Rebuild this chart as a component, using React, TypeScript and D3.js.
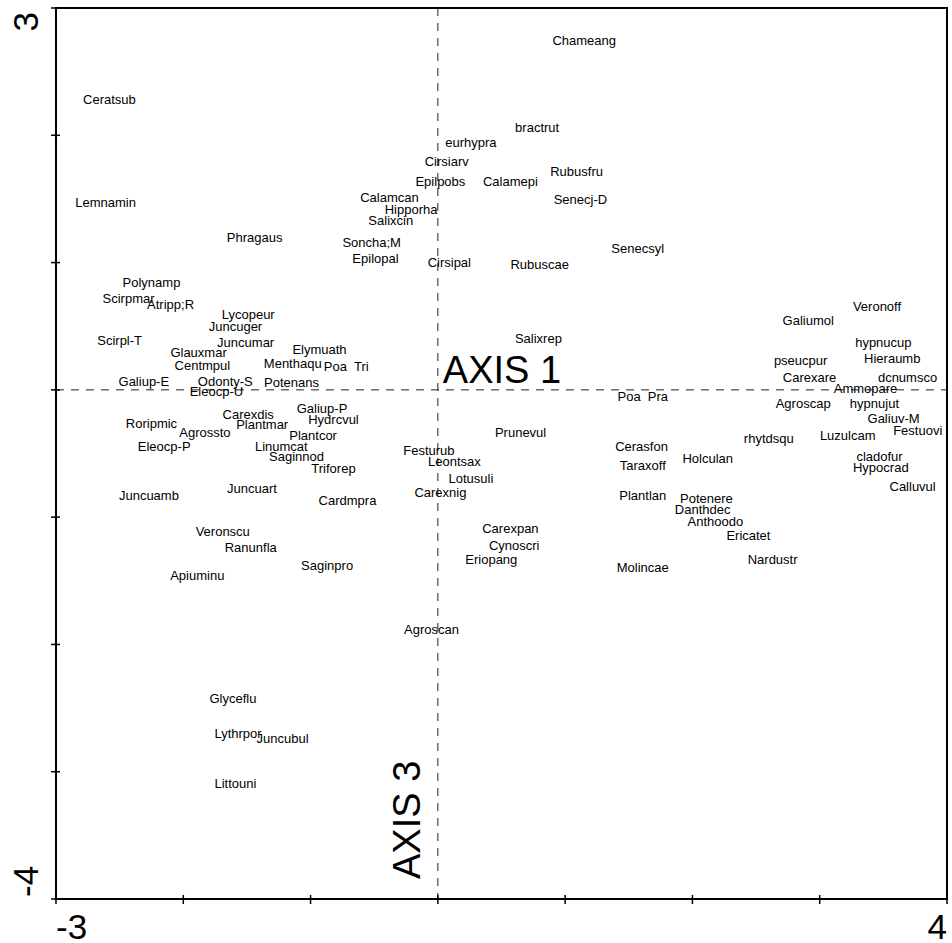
import React from "react";
import * as d3 from "d3";

// Species labels and their ordination scores (axis 1 = horizontal, axis 3 = vertical)
const species: string[] = [
  "Ceratsub", "Lemnamin", "Phragaus", "Polynamp", "Scirpmar", "Atripp;R", "Lycopeur", "Juncuger",
  "Scirpl-T", "Juncumar", "Glauxmar", "Elymuath", "Centmpul", "Menthaqu", "Poa  Tri", "Galiup-E",
  "Odonty-S", "Eleocp-U", "Potenans", "Carexdis", "Galiup-P", "Roripmic", "Hydrcvul", "Plantmar",
  "Agrossto", "Plantcor", "Eleocp-P", "Linumcat", "Saginnod", "Triforep", "Juncuamb", "Juncuart",
  "Cardmpra", "Veronscu", "Ranunfla", "Saginpro", "Apiuminu", "Chameang", "bractrut", "eurhypra",
  "Cirsiarv", "Rubusfru", "Epilpobs", "Calamepi", "Calamcan", "Senecj-D", "Hipporha", "Salixcin",
  "Soncha;M", "Senecsyl", "Epilopal", "Cirsipal", "Rubuscae", "Salixrep", "Prunevul", "Festurub",
  "Leontsax", "Lotusuli", "Carexnig", "Carexpan", "Cynoscri", "Eriopang", "Agroscan", "Veronoff",
  "Galiumol", "hypnucup", "pseucpur", "Hieraumb", "Carexare", "dcnumsco", "Ammopare", "Poa  Pra",
  "Agroscap", "hypnujut", "Galiuv-M", "Festuovi", "rhytdsqu", "Luzulcam", "Cerasfon", "Holculan",
  "cladofur", "Hypocrad", "Taraxoff", "Calluvul", "Plantlan", "Potenere", "Danthdec", "Anthoodo",
  "Ericatet", "Nardustr", "Molincae", "Glyceflu", "Lythrpor", "Juncubul", "Littouni",
];

const axis1: number[] = [
  -2.58, -2.61, -1.44, -2.25, -2.43, -2.10, -1.49, -1.59,
  -2.50, -1.51, -1.88, -0.93, -1.85, -1.14, -0.72, -2.31,
  -1.67, -1.74, -1.15, -1.49, -0.91, -2.25, -0.82, -1.38,
  -1.83, -0.98, -2.15, -1.23, -1.11, -0.82, -2.27, -1.46,
  -0.71, -1.69, -1.47, -0.87, -1.89, 1.15, 0.78, 0.26,
  0.07, 1.09, 0.02, 0.57, -0.38, 1.12, -0.21, -0.37,
  -0.52, 1.57, -0.49, 0.09, 0.80, 0.79, 0.65, -0.07,
  0.13, 0.26, 0.02, 0.57, 0.60, 0.42, -0.05, 3.45,
  2.91, 3.50, 2.85, 3.57, 2.92, 3.69, 3.36, 1.61,
  2.87, 3.43, 3.58, 3.77, 2.60, 3.22, 1.60, 2.12,
  3.47, 3.48, 1.61, 3.73, 1.61, 2.11, 2.08, 2.18,
  2.44, 2.63, 1.61, -1.61, -1.57, -1.22, -1.59,
];

const axis3: number[] = [
  2.28, 1.47, 1.19, 0.84, 0.71, 0.67, 0.59, 0.49,
  0.38, 0.37, 0.29, 0.31, 0.19, 0.20, 0.18, 0.06,
  0.06, -0.02, 0.05, -0.20, -0.15, -0.27, -0.24, -0.28,
  -0.34, -0.36, -0.45, -0.45, -0.53, -0.62, -0.83, -0.78,
  -0.87, -1.12, -1.24, -1.38, -1.46, 2.74, 2.06, 1.94,
  1.79, 1.71, 1.63, 1.63, 1.51, 1.49, 1.41, 1.33,
  1.15, 1.11, 1.03, 1.00, 0.98, 0.40, -0.34, -0.48,
  -0.57, -0.70, -0.81, -1.09, -1.23, -1.34, -1.89, 0.65,
  0.54, 0.37, 0.23, 0.24, 0.09, 0.09, 0.01, -0.06,
  -0.11, -0.11, -0.23, -0.32, -0.39, -0.36, -0.45, -0.54,
  -0.53, -0.61, -0.60, -0.76, -0.83, -0.86, -0.94, -1.04,
  -1.15, -1.34, -1.40, -2.43, -2.70, -2.74, -3.10,
];

const xDomain: [number, number] = [-3, 4];
const yDomain: [number, number] = [-4, 3];
const xTicks: number[] = [-3, -2, -1, 0, 1, 2, 3, 4];
const yTicks: number[] = [-4, -3, -2, -1, 0, 1, 2, 3];
const xAxisTitle = "AXIS 1";
const yAxisTitle = "AXIS 3";

const W = 952;
const H = 943;
const FONT = "'Liberation Sans', Arial, Helvetica, sans-serif";

export default function App() {
  const x = d3.scaleLinear().domain(xDomain).range([56, 947]);
  const y = d3.scaleLinear().domain(yDomain).range([899, 8]);
  const x0 = x(xDomain[0]);
  const x1 = x(xDomain[1]);
  const y0 = y(yDomain[0]);
  const y1 = y(yDomain[1]);

  return (
    <svg
      width={W}
      height={H}
      style={{ position: "absolute", left: 0, top: 0, display: "block", background: "#fff" }}
      fontFamily={FONT}
    >
      <rect x={0} y={0} width={W} height={H} fill="#fff" />
      {/* zero reference dashed lines */}
      <line x1={x0} x2={x1} y1={y(0)} y2={y(0)} stroke="#222" strokeWidth={1} strokeDasharray="8,7" />
      <line x1={x(0)} x2={x(0)} y1={y1} y2={y0} stroke="#222" strokeWidth={1} strokeDasharray="8,7" />

      {/* frame */}
      <rect x={x0} y={y1} width={x1 - x0} height={y0 - y1} fill="none" stroke="#000" strokeWidth={2} />

      {/* ticks */}
      {xTicks.map((t) => (
        <line key={"xt" + t} x1={x(t)} x2={x(t)} y1={y0 - 4} y2={y0 + 5} stroke="#000" strokeWidth={1.5} />
      ))}
      {yTicks.map((t) => (
        <line key={"yt" + t} x1={x0 - 5} x2={x0 + 4} y1={y(t)} y2={y(t)} stroke="#000" strokeWidth={1.5} />
      ))}

      {/* end tick labels */}
      <text x={x0} y={939} fontSize={35} textAnchor="start" fill="#000">
        {String(xTicks[0])}
      </text>
      <text x={x1} y={939} fontSize={35} textAnchor="end" fill="#000">
        {String(xTicks[xTicks.length - 1])}
      </text>
      <text transform={`translate(38,${y1 + 4}) rotate(-90)`} fontSize={35} textAnchor="end" fill="#000">
        {String(yTicks[yTicks.length - 1])}
      </text>
      <text transform={`translate(38,${y0 - 2}) rotate(-90)`} fontSize={35} textAnchor="start" fill="#000">
        {String(yTicks[0])}
      </text>

      {/* axis titles */}
      <text x={x(0) + 5} y={y(0) - 7} fontSize={38} textAnchor="start" fill="#000">
        {xAxisTitle}
      </text>
      <text transform={`translate(${x(0) - 18},${y0 - 20}) rotate(-90)`} fontSize={38} textAnchor="start" fill="#000">
        {yAxisTitle}
      </text>

      {/* species labels */}
      {species.map((s, i) => (
        <text
          key={s + i}
          x={x(axis1[i])}
          y={y(axis3[i]) + 4}
          fontSize={13}
          textAnchor="middle"
          fill="#000"
          style={{ whiteSpace: "pre" }}
        >
          {s}
        </text>
      ))}
    </svg>
  );
}
